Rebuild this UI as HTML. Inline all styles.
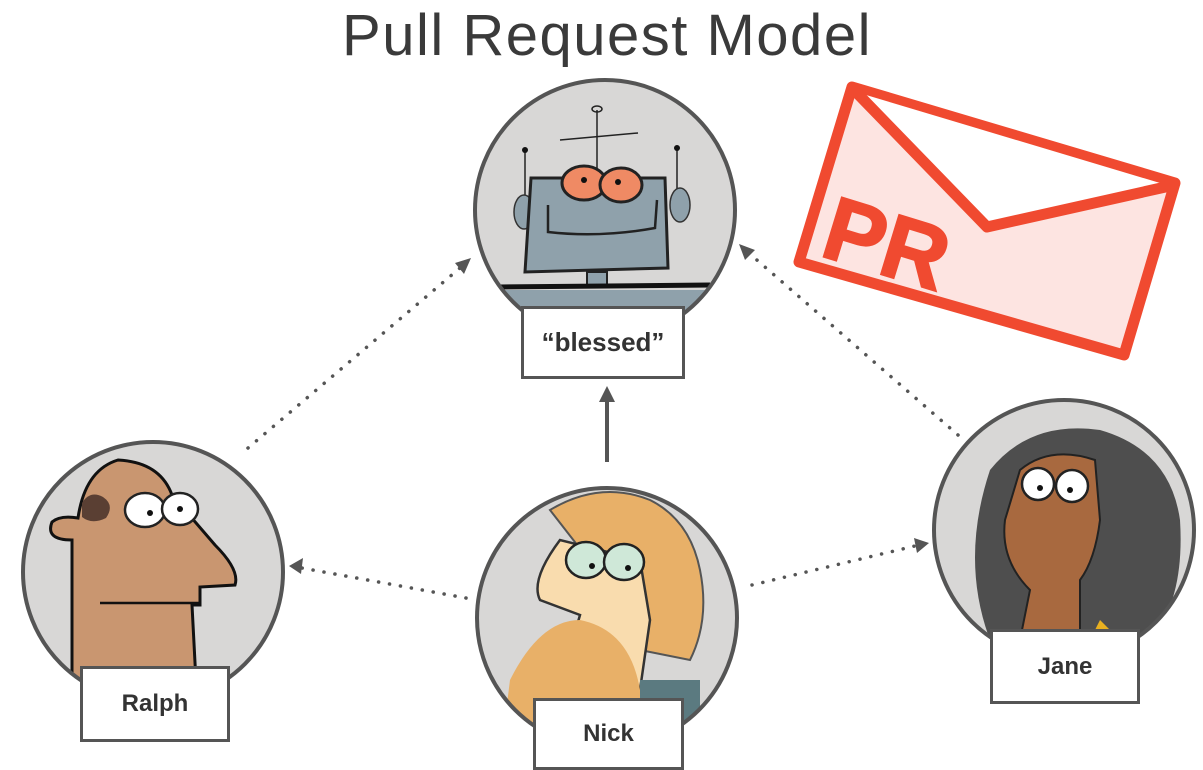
<!DOCTYPE html>
<html><head><meta charset="utf-8"><style>
html,body{margin:0;padding:0;background:#fff;}
body{width:1203px;height:764px;position:relative;overflow:hidden;font-family:"Liberation Sans",sans-serif;}
.lbl{position:absolute;background:#fff;border:3px solid #555;box-sizing:border-box;display:flex;align-items:center;justify-content:center;font-weight:bold;font-size:24px;color:#333;}
</style></head><body>
<svg width="1203" height="764" style="position:absolute;left:0;top:0">
<defs>
<clipPath id="cb"><circle cx="605" cy="210" r="130"/></clipPath>
<clipPath id="cr"><circle cx="153" cy="572" r="130"/></clipPath>
<clipPath id="cn"><circle cx="607" cy="618" r="130"/></clipPath>
<clipPath id="cj"><circle cx="1064" cy="530" r="130"/></clipPath>
</defs>
<text x="607" y="55" text-anchor="middle" font-family="Liberation Sans" font-size="58" letter-spacing="1.5" fill="#3a3a3a">Pull Request Model</text>

<!-- connectors -->
<g stroke="#555" stroke-width="3.5" stroke-dasharray="0.1 11" stroke-linecap="round" fill="none">
<line x1="248" y1="448" x2="460" y2="268"/>
<line x1="958" y1="435" x2="750" y2="254"/>
<line x1="466" y1="598" x2="302" y2="568"/>
<line x1="752" y1="585" x2="915" y2="546"/>
</g>
<polygon points="471,258 455,263 464,274" fill="#555"/>
<polygon points="739,244 745,260 755,250" fill="#555"/>
<polygon points="289,566 303,558 301,574" fill="#555"/>
<polygon points="929,543 914,538 917,553" fill="#555"/>
<line x1="607" y1="462" x2="607" y2="400" stroke="#555" stroke-width="4"/>
<polygon points="607,386 599,402 615,402" fill="#555"/>

<!-- blessed -->
<circle cx="605" cy="210" r="130" fill="#d8d7d6"/>
<g clip-path="url(#cb)">
<line x1="597" y1="110" x2="597" y2="170" stroke="#222" stroke-width="1.5"/>
<ellipse cx="597" cy="109" rx="5" ry="3" fill="none" stroke="#222" stroke-width="1.5"/>
<line x1="560" y1="140" x2="638" y2="133" stroke="#222" stroke-width="1.5"/>
<line x1="525" y1="150" x2="525" y2="205" stroke="#222" stroke-width="1.5"/><circle cx="525" cy="150" r="3" fill="#111"/>
<line x1="677" y1="148" x2="677" y2="190" stroke="#222" stroke-width="1.5"/><circle cx="677" cy="148" r="3" fill="#111"/>
<ellipse cx="524" cy="212" rx="10" ry="17" fill="#8fa1ab" stroke="#333" stroke-width="1.5"/>
<ellipse cx="680" cy="205" rx="10" ry="17" fill="#8fa1ab" stroke="#333" stroke-width="1.5"/>
<path d="M531,178 L665,178 L668,268 L525,272 Z" fill="#8fa1ab" stroke="#222" stroke-width="3"/>
<path d="M548,205 L548,232 Q600,238 655,228 L657,200" fill="none" stroke="#222" stroke-width="2.5"/>
<rect x="587" y="272" width="20" height="14" fill="#8fa1ab" stroke="#222" stroke-width="2"/>
<line x1="500" y1="287" x2="710" y2="285" stroke="#111" stroke-width="5"/>
<rect x="500" y="290" width="210" height="60" fill="#8fa1ab"/>
<ellipse cx="584" cy="183" rx="22" ry="17" fill="#ef8a64" stroke="#222" stroke-width="3"/>
<ellipse cx="621" cy="185" rx="21" ry="17" fill="#ef8a64" stroke="#222" stroke-width="3"/>
<circle cx="584" cy="180" r="3" fill="#111"/><circle cx="618" cy="182" r="3" fill="#111"/>
</g>
<circle cx="605" cy="210" r="130" fill="none" stroke="#555" stroke-width="4"/>

<!-- Ralph -->
<circle cx="153" cy="572" r="130" fill="#d8d7d6"/>
<g clip-path="url(#cr)">
<path d="M72,720 L72,540 Q45,540 52,522 Q60,515 78,518 Q85,470 118,460 Q160,462 172,495 L215,545 Q240,570 235,585 L200,587 L200,605 L192,605 L198,720 Z" fill="#c99670" stroke="#111" stroke-width="3"/>
<path d="M82,503 Q90,490 103,497 Q115,505 106,518 Q92,525 82,517 Z" fill="#5a3f33"/>
<line x1="100" y1="603" x2="200" y2="603" stroke="#111" stroke-width="2.5"/>
<ellipse cx="145" cy="510" rx="20" ry="17" fill="#fff" stroke="#222" stroke-width="2.5"/>
<ellipse cx="180" cy="509" rx="18" ry="16" fill="#fff" stroke="#222" stroke-width="2.5"/>
<circle cx="150" cy="513" r="3" fill="#111"/><circle cx="180" cy="509" r="3" fill="#111"/>
</g>
<circle cx="153" cy="572" r="130" fill="none" stroke="#555" stroke-width="4"/>

<!-- Nick -->
<circle cx="607" cy="618" r="130" fill="#d8d7d6"/>
<g clip-path="url(#cn)">
<path d="M550,510 Q600,480 650,500 Q690,520 700,570 Q710,620 690,660 L640,650 L620,600 Z" fill="#e8b068" stroke="#555" stroke-width="2"/>
<path d="M560,540 Q530,580 540,600 L580,615 L570,650 L640,690 L650,620 L640,560 Z" fill="#f9dcae" stroke="#333" stroke-width="2.5"/>
<path d="M510,680 Q540,620 580,620 Q630,630 640,690 L640,760 L500,760 Z" fill="#e8b068"/>
<rect x="640" y="680" width="60" height="60" fill="#5b7a80"/>
<ellipse cx="586" cy="560" rx="20" ry="18" fill="#cfe8d8" stroke="#222" stroke-width="2.5"/>
<ellipse cx="624" cy="562" rx="20" ry="18" fill="#cfe8d8" stroke="#222" stroke-width="2.5"/>
<circle cx="592" cy="566" r="3" fill="#111"/><circle cx="628" cy="568" r="3" fill="#111"/>
</g>
<circle cx="607" cy="618" r="130" fill="none" stroke="#555" stroke-width="4"/>

<!-- Jane -->
<circle cx="1064" cy="530" r="130" fill="#d8d7d6"/>
<g clip-path="url(#cj)">
<path d="M990,470 Q1030,420 1100,430 Q1170,450 1180,520 Q1185,600 1150,640 L990,640 Q960,560 990,470 Z" fill="#4e4e4e"/>
<path d="M1020,470 Q1050,445 1095,460 L1100,520 Q1095,560 1080,580 L1080,640 L1020,640 L1030,590 Q1000,560 1005,520 Z" fill="#a8693f" stroke="#222" stroke-width="2"/>
<ellipse cx="1038" cy="484" rx="16" ry="16" fill="#fff" stroke="#222" stroke-width="2.5"/>
<ellipse cx="1072" cy="486" rx="16" ry="16" fill="#fff" stroke="#222" stroke-width="2.5"/>
<circle cx="1040" cy="488" r="3" fill="#111"/><circle cx="1070" cy="490" r="3" fill="#111"/>
<path d="M1100,620 L1120,640 L1090,640 Z" fill="#e8b020"/>
</g>
<circle cx="1064" cy="530" r="130" fill="none" stroke="#555" stroke-width="4"/>

<!-- envelope -->
<polygon points="852,87 1175,183 1124,355 799,262" fill="#fde4e1" stroke="#f04a30" stroke-width="11" stroke-linejoin="round"/>
<polygon points="856,92 1170,186 987,227" fill="#fff"/>
<polyline points="856,92 987,227 1170,186" fill="none" stroke="#f04a30" stroke-width="11" stroke-linejoin="round"/>
<text x="0" y="0" transform="translate(818,255) rotate(17)" font-family="Liberation Sans" font-weight="bold" font-size="90" fill="#f04a30" stroke="#f04a30" stroke-width="2">PR</text>
</svg>
<div class="lbl" style="left:521px;top:306px;width:164px;height:73px;font-size:26px;">“blessed”</div>
<div class="lbl" style="left:80px;top:666px;width:150px;height:76px;">Ralph</div>
<div class="lbl" style="left:533px;top:698px;width:151px;height:72px;">Nick</div>
<div class="lbl" style="left:990px;top:629px;width:150px;height:75px;">Jane</div>
</body></html>
